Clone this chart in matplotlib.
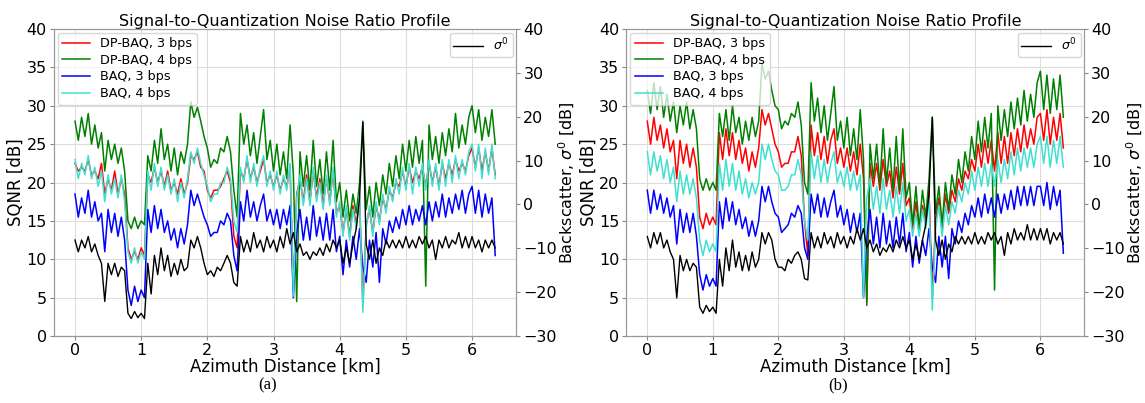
import numpy as np
import matplotlib
matplotlib.use('Agg')
import matplotlib.pyplot as plt


# azimuth sampling, km
dist = np.linspace(0, 6.35, 128)

# %% panel (a) SQNR values [dB]
red_a = [22.5, 21.5, 22.0, 21.5, 23.0, 21.0, 21.5, 20.5, 22.5, 18.5,
         20.5, 19.0, 21.5, 18.5, 20.5, 18.5, 11.5, 10.0, 11.0, 10.0,
         11.5, 10.5, 21.0, 20.0, 22.0, 20.0, 21.5, 19.5, 21.5, 19.0,
         20.0, 18.5, 20.5, 18.5, 20.0, 23.5, 23.0, 24.0, 22.0, 21.5,
         19.0, 18.0, 19.0, 19.0, 19.5, 20.5, 21.5, 20.0, 13.0, 11.5,
         21.5, 20.5, 23.0, 20.5, 22.0, 20.0, 21.5, 23.0, 20.0, 21.0,
         19.5, 21.0, 19.0, 20.5, 19.5, 22.0, 6.0, 18.5, 20.5, 17.5,
         21.0, 17.5, 21.5, 18.0, 20.5, 17.0, 20.5, 17.5, 21.5, 16.0,
         17.0, 13.5, 16.5, 13.0, 17.0, 14.5, 18.0, 4.0, 14.5, 16.5,
         13.5, 17.0, 15.0, 18.0, 16.5, 19.0, 18.0, 20.0, 19.5, 21.5,
         19.5, 22.0, 20.0, 21.5, 20.5, 22.0, 19.5, 22.5, 20.0, 22.0,
         19.5, 22.5, 20.5, 22.5, 21.0, 23.0, 21.5, 22.5, 21.5, 23.5,
         24.5, 22.0, 24.5, 21.5, 24.0, 21.5, 24.5, 21.0]
green_a = [28.0, 25.5, 28.5, 26.0, 29.0, 25.0, 27.5, 24.5, 26.5, 21.5,
           25.5, 23.0, 25.0, 22.5, 24.5, 21.5, 15.0, 14.0, 15.5, 14.0,
           15.0, 14.5, 23.5, 21.5, 25.5, 22.5, 27.0, 23.0, 25.0, 21.5,
           24.5, 21.0, 24.0, 22.5, 25.0, 30.5, 28.5, 29.8, 28.0, 26.0,
           24.5, 22.0, 23.0, 22.5, 24.5, 24.0, 26.0, 24.0, 19.0, 15.5,
           29.0, 25.0, 27.5, 23.5, 26.5, 22.5, 26.0, 29.5, 23.0, 25.5,
           21.5, 25.0, 21.0, 24.0, 20.5, 27.5, 21.0, 4.5, 24.0, 19.5,
           23.5, 19.0, 25.5, 19.5, 23.0, 18.5, 24.0, 19.0, 25.5, 17.5,
           20.0, 15.5, 19.0, 15.0, 18.5, 16.0, 20.0, 28.0, 16.5, 19.5,
           15.5, 20.0, 17.0, 21.0, 18.5, 22.5, 19.5, 23.5, 20.5, 25.0,
           21.5, 25.5, 22.0, 26.0, 22.5, 25.5, 6.5, 27.5, 23.0, 26.0,
           22.5, 26.5, 23.5, 27.0, 24.0, 29.0, 24.5, 27.5, 25.0, 28.5,
           30.0, 26.5, 29.5, 25.5, 28.5, 26.0, 29.5, 25.0]
blue_a = [18.5, 15.5, 18.0, 16.0, 19.0, 15.5, 17.5, 15.0, 16.0, 11.0,
          16.5, 13.5, 16.0, 13.0, 15.5, 12.5, 6.0, 4.0, 6.5, 4.5,
          6.0, 5.0, 16.5, 13.5, 17.0, 14.0, 16.5, 13.5, 15.0, 12.5,
          14.0, 11.5, 14.0, 12.0, 14.5, 19.0, 17.0, 18.5, 17.0, 15.5,
          14.5, 13.0, 13.5, 13.5, 15.0, 14.5, 16.0, 15.0, 10.5, 8.5,
          17.5, 15.0, 19.0, 15.5, 17.5, 15.0, 17.0, 18.5, 15.0, 16.5,
          14.5, 16.5, 14.0, 16.5, 14.5, 17.0, 5.0, 13.5, 16.5, 12.5,
          15.5, 12.5, 17.0, 13.0, 15.5, 12.5, 16.0, 12.5, 16.5, 11.0,
          13.0, 8.0, 12.5, 9.0, 13.0, 10.0, 14.0, 9.0, 7.0, 12.5,
          9.0, 13.5, 7.0, 14.0, 12.0, 15.0, 13.5, 15.5, 14.0, 16.5,
          14.5, 17.0, 14.5, 16.5, 15.0, 17.0, 14.5, 17.5, 15.0, 17.5,
          15.5, 18.5, 15.5, 18.0, 16.0, 18.5, 16.5, 19.0, 16.0, 18.5,
          19.5, 16.0, 19.0, 15.5, 18.5, 16.0, 18.0, 10.5]
cyan_a = [23.0, 20.5, 22.5, 21.0, 23.5, 20.5, 22.0, 19.5, 21.5, 17.5,
          21.0, 18.5, 20.5, 18.0, 21.0, 17.5, 11.0, 9.5, 11.5, 9.5,
          11.0, 10.0, 21.5, 19.0, 22.5, 19.5, 22.0, 19.0, 21.0, 18.5,
          20.5, 17.5, 20.0, 18.0, 20.5, 24.0, 22.5, 24.5, 22.5, 21.0,
          19.5, 17.5, 18.5, 18.5, 20.0, 20.0, 22.0, 20.5, 15.0, 13.5,
          22.0, 20.0, 23.5, 20.0, 22.5, 19.5, 22.0, 23.5, 19.5, 21.5,
          19.0, 21.5, 18.5, 21.0, 19.0, 22.5, 5.2, 18.0, 21.0, 17.0,
          20.5, 17.0, 22.0, 17.5, 20.0, 16.5, 21.0, 17.0, 22.0, 15.5,
          17.5, 13.0, 17.0, 12.5, 16.5, 14.0, 18.5, 3.1, 14.0, 17.0,
          13.0, 17.5, 14.5, 18.5, 16.0, 19.5, 17.5, 20.5, 18.5, 22.0,
          19.0, 22.5, 18.5, 22.0, 19.5, 22.5, 19.0, 23.0, 19.5, 22.5,
          19.0, 23.0, 19.5, 23.0, 20.0, 23.5, 20.5, 23.0, 21.0, 24.0,
          25.0, 21.5, 25.0, 20.5, 24.5, 21.0, 25.0, 20.5]
# backscatter sigma0 [dB], right axis
sigma_a = [-8.1, -10.8, -8.1, -9.9, -7.3, -10.8, -9.0, -11.6, -13.4, -22.1,
           -13.4, -16.0, -13.4, -16.4, -14.3, -15.1, -24.8, -26.0, -24.4, -25.8,
           -24.8, -26.0, -13.4, -20.4, -11.6, -16.0, -9.9, -15.1, -11.6, -16.4,
           -13.4, -16.0, -12.5, -15.1, -14.3, -8.1, -9.9, -7.3, -9.9, -13.4,
           -16.0, -15.1, -16.4, -14.3, -15.1, -13.4, -11.6, -13.4, -17.8, -18.6,
           -7.3, -10.8, -8.1, -10.8, -6.4, -9.9, -8.1, -10.8, -7.3, -9.9,
           -8.1, -10.8, -7.3, -9.9, -5.5, -9.0, -6.4, -10.8, -9.0, -11.6,
           -10.8, -12.5, -10.8, -11.6, -9.9, -11.6, -9.0, -10.8, -8.1, -9.9,
           -8.1, -13.4, -9.9, -13.4, -9.0, -5.5, 1.5, 18.7, -9.0, -12.5,
           -8.1, -13.4, -9.9, -11.6, -8.1, -9.9, -8.1, -9.9, -8.1, -9.9,
           -7.3, -9.9, -8.1, -9.9, -7.3, -9.0, -7.3, -9.9, -8.1, -12.5,
           -8.1, -9.9, -7.3, -9.9, -8.1, -9.0, -6.4, -9.9, -7.3, -9.9,
           -7.3, -9.9, -8.1, -10.8, -8.1, -9.9, -8.1, -9.9]

# %% panel (b)
red_b = [28.0, 25.0, 28.5, 25.5, 27.5, 24.5, 27.0, 24.0, 25.5, 20.5,
         25.5, 22.5, 25.0, 22.0, 24.5, 22.0, 15.5, 14.0, 16.0, 14.5,
         15.5, 14.5, 26.5, 23.0, 27.0, 23.5, 26.5, 23.0, 25.5, 22.5,
         24.5, 21.5, 24.0, 22.0, 24.5, 29.5, 27.5, 29.0, 27.0, 25.0,
         24.0, 22.0, 22.5, 22.5, 24.0, 24.0, 26.0, 23.5, 15.0, 10.5,
         27.5, 23.5, 26.5, 23.0, 26.0, 22.5, 25.5, 27.0, 22.5, 24.5,
         22.0, 24.5, 21.5, 24.0, 21.0, 25.0, 20.5, 4.5, 22.5, 19.5,
         22.5, 19.0, 23.0, 19.5, 21.5, 18.0, 22.0, 18.5, 22.5, 17.0,
         18.0, 14.0, 17.5, 13.5, 17.0, 15.0, 19.0, 5.0, 15.0, 18.0,
         14.0, 18.5, 16.0, 19.0, 17.5, 20.5, 19.0, 21.5, 20.5, 23.0,
         21.5, 25.0, 22.0, 25.5, 22.5, 25.5, 21.5, 26.5, 22.5, 26.0,
         22.5, 26.5, 23.5, 27.0, 24.0, 27.5, 24.5, 27.0, 25.0, 28.5,
         29.0, 25.5, 29.5, 25.0, 28.5, 25.5, 29.0, 24.5]
green_b = [32.0, 29.0, 33.0, 29.5, 32.5, 28.5, 31.5, 28.0, 30.5, 26.5,
           30.0, 27.5, 30.5, 27.0, 29.5, 27.0, 20.5, 19.0, 20.5, 19.0,
           20.0, 19.0, 29.0, 26.0, 29.5, 25.5, 30.0, 26.5, 28.5, 25.0,
           28.0, 25.5, 28.5, 26.0, 28.0, 35.5, 33.5, 34.5, 32.0, 30.0,
           29.5, 27.0, 28.0, 27.5, 29.0, 28.5, 30.5, 27.5, 20.0, 18.5,
           33.0, 28.0, 31.0, 26.5, 30.0, 25.5, 29.0, 32.5, 25.5, 28.0,
           24.5, 28.5, 23.5, 27.0, 23.0, 29.5, 23.0, 4.0, 25.0, 20.5,
           25.0, 19.5, 27.0, 20.0, 24.5, 19.0, 26.0, 19.0, 27.0, 18.0,
           20.0, 14.5, 19.5, 14.0, 19.0, 15.5, 20.5, 28.5, 16.0, 19.5,
           14.5, 20.0, 16.5, 21.0, 18.5, 23.0, 20.0, 24.0, 21.5, 26.0,
           23.0, 28.0, 24.0, 28.5, 24.5, 29.0, 6.0, 30.0, 25.5, 29.5,
           26.0, 30.5, 27.0, 31.0, 27.5, 32.0, 28.0, 31.5, 28.5, 33.0,
           34.5, 29.5, 34.0, 29.0, 33.5, 29.5, 34.0, 28.5]
blue_b = [19.0, 16.0, 19.0, 16.5, 18.5, 16.0, 18.0, 15.5, 17.0, 12.0,
          16.5, 13.5, 16.0, 13.5, 16.0, 13.0, 8.0, 6.0, 8.0, 6.5,
          7.5, 6.5, 17.5, 14.0, 18.0, 15.0, 17.5, 14.5, 16.5, 14.0,
          15.5, 13.0, 15.0, 13.0, 15.0, 19.5, 17.5, 19.5, 17.5, 16.0,
          15.5, 13.5, 14.0, 14.5, 16.0, 15.5, 17.0, 16.0, 11.5, 10.0,
          18.5, 16.0, 18.5, 15.5, 18.0, 15.5, 17.5, 19.0, 15.5, 17.0,
          14.5, 16.5, 13.5, 16.0, 13.5, 16.0, 5.0, 13.0, 16.5, 12.0,
          15.5, 11.5, 16.0, 12.0, 15.0, 11.5, 15.5, 12.0, 16.0, 11.0,
          13.5, 9.0, 13.0, 9.5, 12.5, 10.5, 14.0, 9.0, 7.0, 13.0,
          9.0, 13.0, 7.5, 14.0, 12.0, 15.0, 13.5, 16.0, 14.5, 17.0,
          15.5, 18.0, 15.5, 18.5, 16.0, 18.0, 15.5, 18.5, 16.0, 18.5,
          16.5, 19.0, 16.5, 19.5, 17.0, 19.5, 17.0, 19.5, 17.0, 19.5,
          19.5, 17.0, 20.0, 16.5, 19.5, 17.0, 19.0, 10.8]
cyan_b = [24.0, 21.0, 24.0, 21.5, 23.5, 20.5, 23.0, 20.0, 22.0, 17.5,
          21.5, 18.5, 21.0, 18.5, 20.5, 18.0, 12.5, 10.5, 12.5, 11.0,
          12.0, 11.0, 22.5, 19.0, 23.0, 19.5, 22.5, 19.0, 21.5, 18.5,
          20.5, 18.0, 20.0, 18.5, 20.0, 25.0, 23.0, 25.0, 23.0, 21.5,
          21.0, 19.0, 19.0, 19.5, 21.0, 21.0, 23.0, 21.0, 15.0, 12.5,
          24.0, 20.5, 23.5, 20.0, 23.0, 20.0, 22.5, 24.0, 20.0, 21.5,
          19.5, 22.0, 19.0, 21.5, 19.0, 21.0, 5.0, 18.0, 20.5, 16.5,
          19.5, 16.0, 20.5, 16.5, 19.0, 15.5, 19.5, 16.0, 20.0, 15.0,
          16.5, 13.0, 16.0, 13.0, 16.5, 14.0, 18.0, 3.4, 14.0, 17.0,
          13.0, 17.0, 14.5, 17.5, 16.0, 19.0, 17.5, 20.0, 18.5, 21.5,
          19.0, 22.0, 19.5, 22.5, 19.5, 22.5, 19.5, 23.0, 20.0, 23.0,
          20.5, 24.0, 21.0, 24.5, 21.5, 24.5, 22.0, 24.5, 22.0, 25.0,
          26.0, 22.5, 26.0, 22.0, 25.5, 22.5, 26.0, 22.0]
sigma_b = [-7.3, -9.9, -6.4, -9.0, -6.4, -9.9, -8.1, -10.8, -12.5, -21.3,
           -11.6, -15.1, -12.5, -15.1, -13.4, -14.3, -23.4, -24.8, -23.0, -24.4,
           -23.4, -24.8, -12.5, -18.6, -9.9, -15.1, -8.1, -14.3, -10.8, -15.1,
           -11.6, -15.1, -10.8, -14.3, -12.5, -6.4, -9.0, -6.4, -8.1, -12.5,
           -14.3, -14.3, -15.1, -12.5, -13.4, -11.6, -10.8, -12.5, -16.9, -17.2,
           -6.4, -9.9, -7.3, -9.9, -6.4, -9.0, -7.3, -9.9, -6.4, -9.0,
           -7.3, -9.9, -7.3, -9.0, -5.5, -8.1, -5.5, -9.9, -8.1, -10.8,
           -9.0, -11.6, -9.9, -10.8, -9.0, -10.8, -8.1, -9.9, -7.3, -9.9,
           -8.1, -12.5, -9.0, -12.5, -8.1, -4.6, 2.4, 19.9, -8.1, -11.6,
           -8.1, -12.5, -9.0, -10.8, -7.3, -9.0, -7.3, -9.0, -7.3, -9.0,
           -6.4, -9.0, -7.3, -9.0, -6.4, -8.1, -6.4, -9.0, -7.3, -11.6,
           -6.4, -9.0, -5.5, -8.1, -6.4, -8.1, -4.6, -8.1, -5.5, -8.1,
           -5.5, -8.1, -5.5, -9.0, -6.4, -8.1, -6.4, -9.0]

labels = ['DP-BAQ, 3 bps', 'DP-BAQ, 4 bps', 'BAQ, 3 bps', 'BAQ, 4 bps']
colors = ['red', 'green', 'blue', 'turquoise']


def _panel(fig, rect, series, sigma, caption):
    ax = fig.add_axes(rect)
    for vals, lab, col in zip(series, labels, colors):
        ax.plot(dist, vals, color=col, lw=1.1, label=lab)
    ax.set_ylim(0, 40)
    ax.set_xlim(-0.32, 6.67)
    ax.set_yticks(np.arange(0, 41, 5))
    ax.set_xticks(np.arange(0, 7, 1))
    ax.grid(True, color='#dddddd', lw=0.8)
    ax.set_ylabel('SQNR [dB]', fontsize=12, labelpad=1)
    ax.set_xlabel('Azimuth Distance [km]', fontsize=12, labelpad=0)
    ax.set_title('Signal-to-Quantization Noise Ratio Profile', fontsize=11.5, pad=2)
    ax.tick_params(labelsize=11.5, length=3, pad=2, color='#888888')
    ax.legend(loc='upper left', fontsize=9.2, framealpha=0.75, borderaxespad=0.3,
              handlelength=2.2, labelspacing=0.28, borderpad=0.35)

    ax2 = ax.twinx()
    ax2.plot(dist, sigma, color='black', lw=1.0, label=r'$\sigma^0$')
    ax2.set_ylim(-30, 40)
    ax2.set_yticks(np.arange(-30, 41, 10))
    ax2.set_ylabel(r'Backscatter, $\sigma^0$ [dB]', fontsize=11.5, labelpad=0)
    ax2.tick_params(labelsize=11.5, length=3, pad=2, color='#888888')
    ax2.legend(loc='upper right', fontsize=9, framealpha=0.8, borderaxespad=0.3,
               handlelength=2.4, borderpad=0.3)
    for a in (ax, ax2):
        for sp in a.spines.values():
            sp.set_color('#999999')

    x0 = rect[0] + rect[2] / 2 - 0.015
    fig.text(x0, 0.025, caption, ha='center', va='bottom',
             family='Liberation Serif', fontsize=12)


fig = plt.figure(figsize=(11.45, 4.03), dpi=100)
_panel(fig, [0.047, 0.166, 0.404, 0.762],
       [red_a, green_a, blue_a, cyan_a], sigma_a, '(a)')
_panel(fig, [0.547, 0.166, 0.400, 0.762],
       [red_b, green_b, blue_b, cyan_b], sigma_b, '(b)')

fig.savefig('out.png', dpi=100)
